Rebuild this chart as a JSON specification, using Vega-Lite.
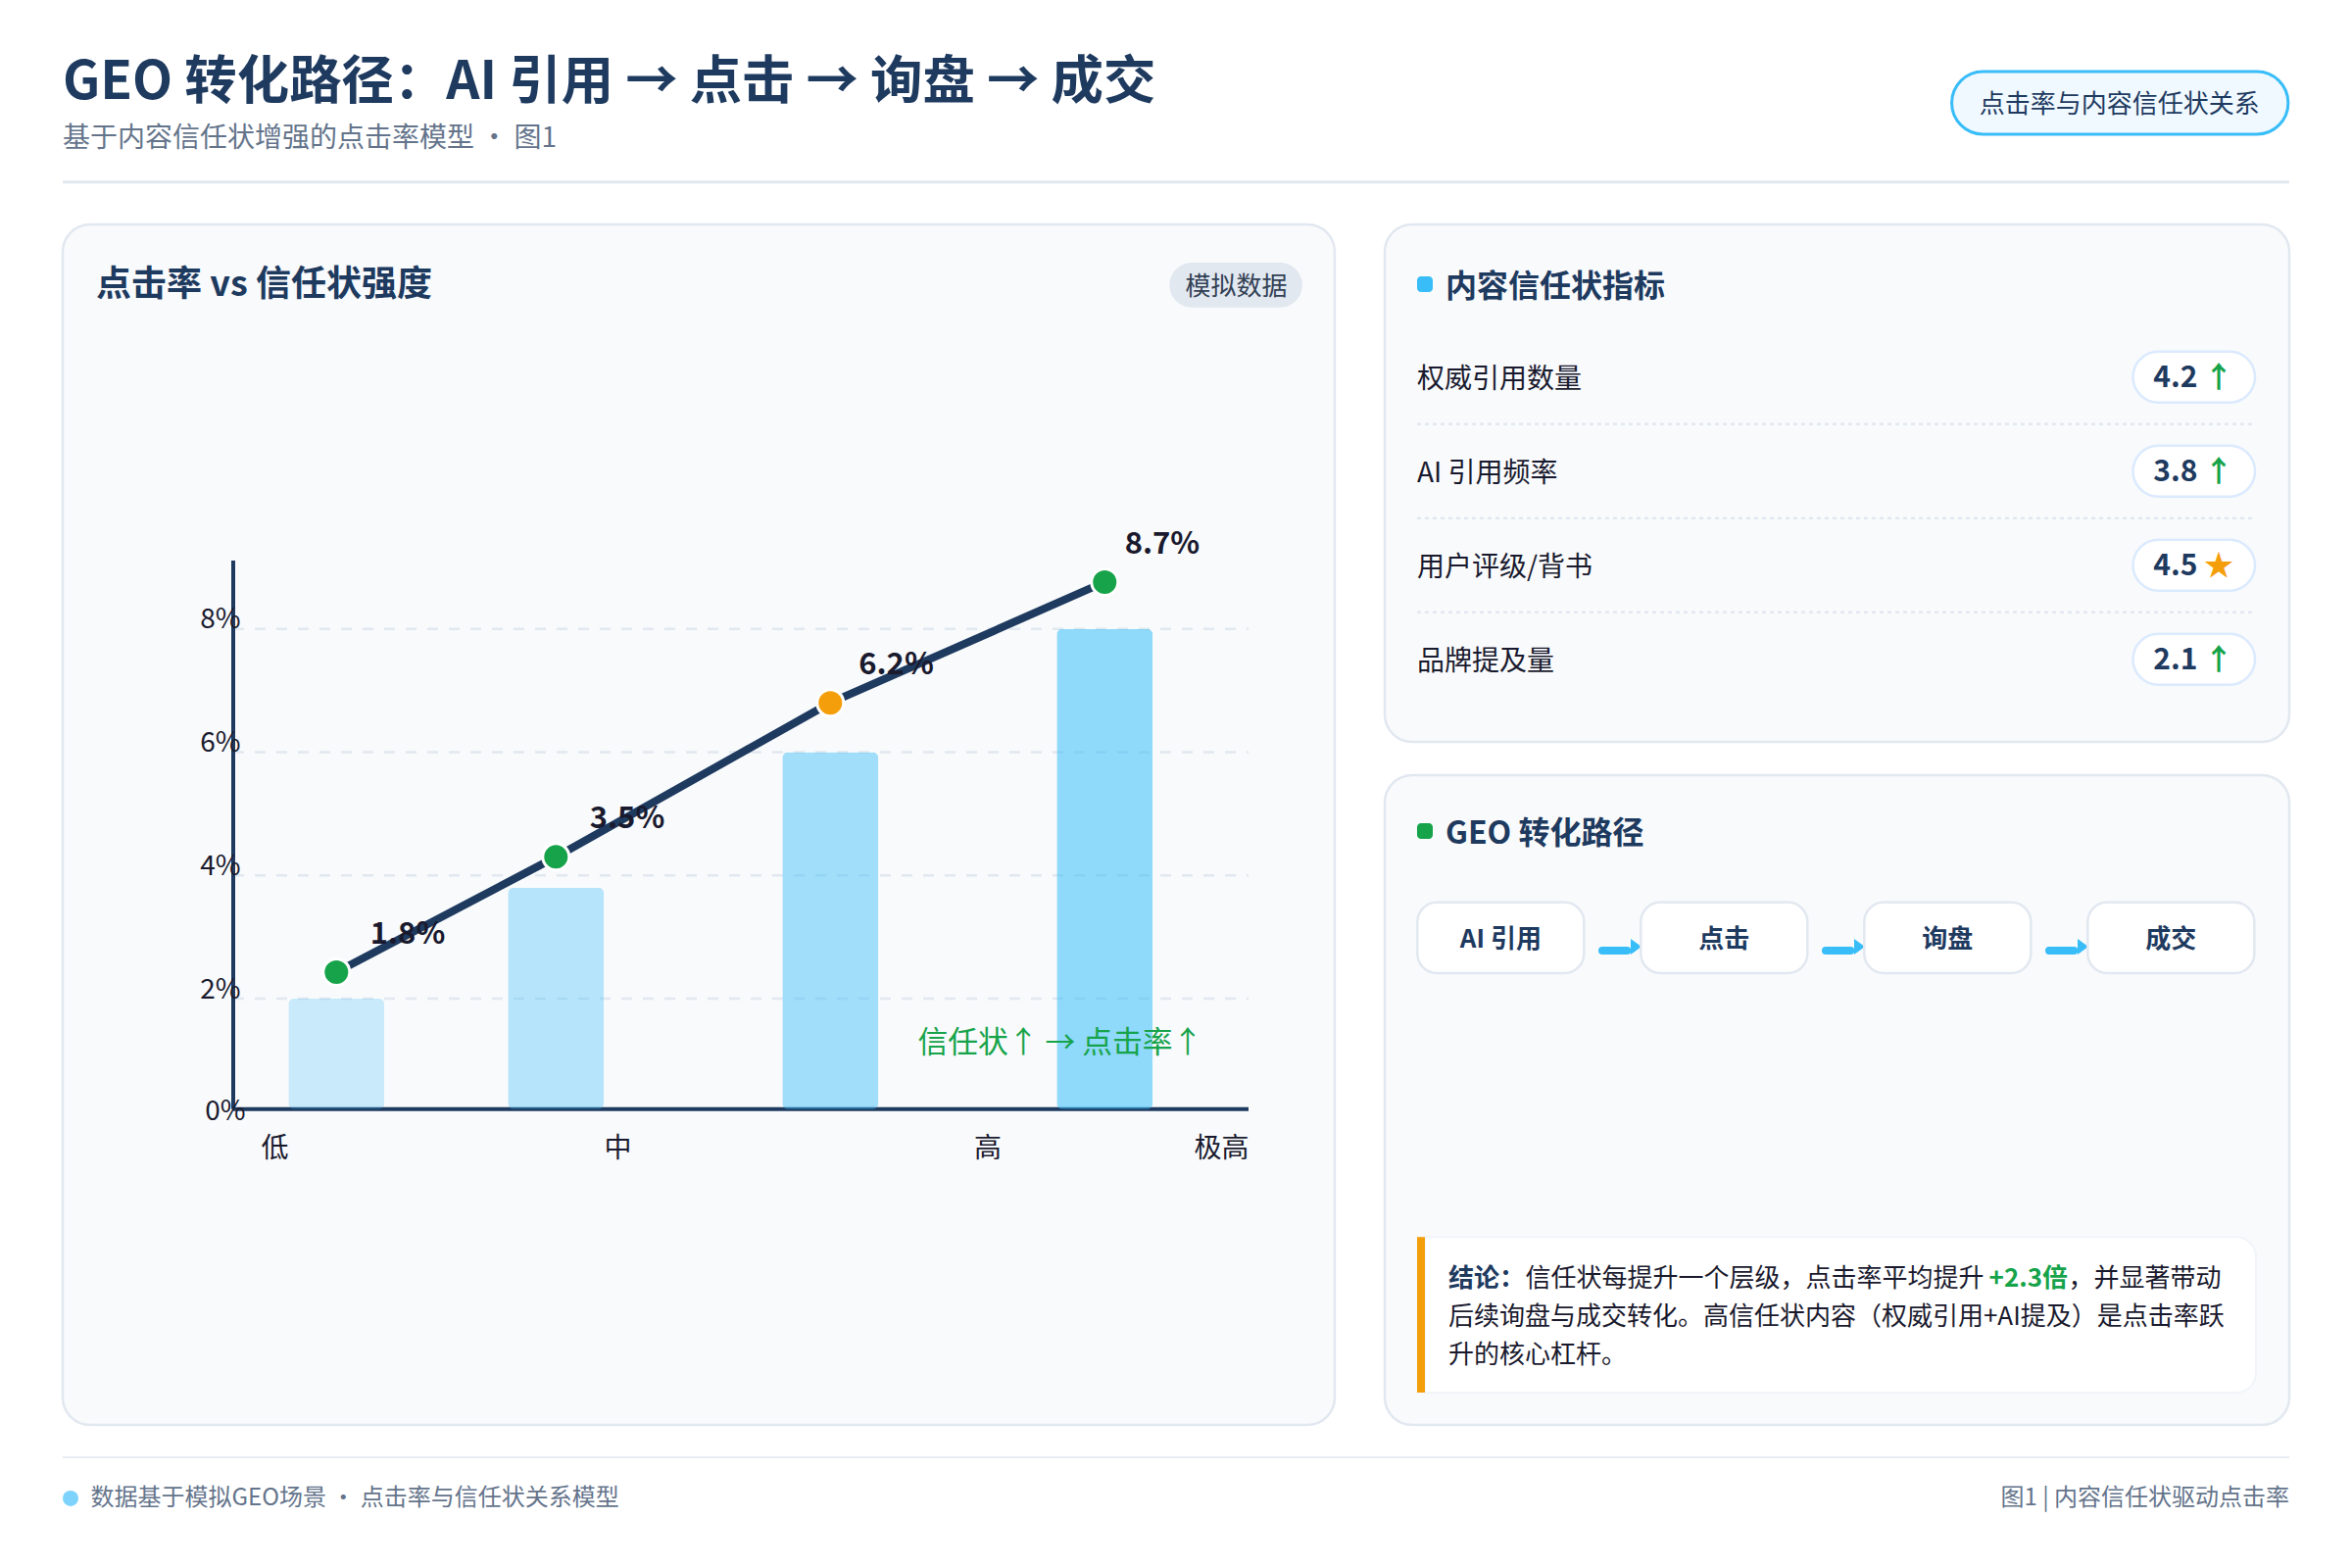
{
  "$schema": "https://vega.github.io/schema/vega-lite/v6.json",
  "background": "#ffffff",
  "padding": {"left": 62, "right": 64, "top": 0, "bottom": 33},
  "config": {
    "font": "Noto Sans CJK SC",
    "view": {"stroke": null},
    "title": {"anchor": "start", "frame": "group", "font": "Noto Sans CJK SC", "color": "#1e3a5f", "fontWeight": 700}
  },
  "spacing": 29,
  "vconcat": [
    {
      "width": 2272,
      "height": 198,
      "title": {
        "text": "GEO 转化路径：AI 引用 → 点击 → 询盘 → 成交",
        "subtitle": "基于内容信任状增强的点击率模型 · 图1",
        "fontSize": 53.4,
        "offset": -156.6,
        "subtitleFont": "Noto Sans CJK SC",
        "subtitleFontSize": 28,
        "subtitleColor": "#64748b",
        "subtitleFontWeight": 400,
        "subtitlePadding": 15
      },
      "layer": [
        {
          "data": {"values": [{}]},
          "mark": {"type": "rule", "stroke": "#e2e8f0", "strokeWidth": 3},
          "encoding": {
            "y": {"datum": 93.78, "type": "quantitative", "axis": null, "scale": {"domain": [0, 100], "reverse": true, "nice": false}}
          }
        },
        {
          "data": {"values": [{}]},
          "mark": {"type": "rect", "fill": "#f0f9ff", "stroke": "#38bdf8", "strokeWidth": 3, "cornerRadius": 32},
          "encoding": {
            "x": {"datum": 84.84, "type": "quantitative", "axis": null, "scale": {"domain": [0, 100], "nice": false}},
            "x2": {"datum": 99.95},
            "y": {"datum": 36.9, "type": "quantitative", "axis": null},
            "y2": {"datum": 69.19}
          }
        },
        {
          "data": {"values": [{"tag": "点击率与内容信任状关系"}]},
          "mark": {"type": "text", "fontSize": 26, "color": "#1e3a5f"},
          "encoding": {
            "text": {"field": "tag"},
            "x": {"datum": 92.38, "type": "quantitative", "axis": null},
            "y": {"datum": 53.95, "type": "quantitative", "axis": null}
          }
        }
      ]
    },
    {
      "bounds": "flush",
      "spacing": 51,
      "hconcat": [
        {
          "width": 1298,
          "height": 1225,
          "view": {"fill": "#f8fafc", "stroke": "#e2e8f0", "strokeWidth": 2.5, "cornerRadius": 28},
          "title": {"text": "点击率 vs 信任状强度", "fontSize": 36, "offset": -80.5, "dx": 34},
          "resolve": {"axis": {"x": "independent", "y": "independent"}},
          "layer": [
            {
              "data": {"values": [{"tick": 2}, {"tick": 4}, {"tick": 6}, {"tick": 8}]},
              "mark": {"type": "rule", "stroke": "#e2e8f0", "strokeWidth": 2.5, "strokeDash": [11, 11]},
              "encoding": {
                "x": {
                  "datum": 0,
                  "type": "quantitative",
                  "scale": {"domain": [-1.5536, 10.0357], "nice": false, "zero": false, "padding": 0},
                  "axis": {
                    "orient": "bottom",
                    "title": null,
                    "values": [0.375, 3.5, 6.87, 9],
                    "labelExpr": "datum.value < 1 ? '低' : datum.value < 5 ? '中' : datum.value < 8 ? '高' : '极高'",
                    "offset": -322.3,
                    "domain": false,
                    "ticks": false,
                    "grid": false,
                    "labelFontSize": 28,
                    "labelColor": "#1a1a2e",
                    "labelPadding": 26.5,
                    "labelFlush": false,
                    "labelOverlap": false,
                    "labelBound": false
                  }
                },
                "x2": {"datum": 9.25},
                "y": {
                  "field": "tick",
                  "type": "quantitative",
                  "scale": {"domain": [-5.72, 0, 2, 8, 14.57], "range": [1225, 902.7, 790, 412.7, 0], "nice": false, "zero": false},
                  "axis": {
                    "orient": "left",
                    "title": null,
                    "values": [0, 2, 4, 6, 8],
                    "labelExpr": "datum.value + '%'",
                    "offset": -174,
                    "domain": false,
                    "ticks": false,
                    "grid": false,
                    "labelFontSize": 28,
                    "labelColor": "#1a1a2e",
                    "labelAlign": "right",
                    "labelBaseline": "middle",
                    "labelPadding": {"condition": {"test": "datum.value === 0", "value": -12}, "value": -7},
                    "labelOffset": {"condition": {"test": "datum.value === 0", "value": 3}, "value": -9},
                    "labelFlush": false,
                    "labelOverlap": false,
                    "labelBound": false,
                    "zindex": 1
                  }
                }
              }
            },
            {
              "data": {"values": [{}]},
              "mark": {"type": "rule", "stroke": "#1e3a5f", "strokeWidth": 4},
              "encoding": {
                "x": {"datum": 0, "type": "quantitative", "axis": null},
                "x2": {"datum": 9.25},
                "y": {"datum": 0, "type": "quantitative", "axis": null}
              }
            },
            {
              "data": {"values": [{}]},
              "mark": {"type": "rule", "stroke": "#1e3a5f", "strokeWidth": 4},
              "encoding": {
                "x": {"datum": 0, "type": "quantitative", "axis": null},
                "y": {"datum": 0, "type": "quantitative", "axis": null},
                "y2": {"datum": 9.11}
              }
            },
            {
              "data": {"name": "levels"},
              "mark": {"type": "bar", "orient": "vertical", "width": 98, "cornerRadius": 6, "fill": "#38bdf8"},
              "encoding": {
                "x": {"field": "trust", "type": "quantitative", "axis": null},
                "y": {"field": "bar_ctr", "type": "quantitative", "axis": null},
                "opacity": {"field": "bar_ctr", "type": "quantitative", "scale": {"domain": [2, 8], "range": [0.25, 0.55]}, "legend": null}
              }
            },
            {
              "data": {"name": "levels"},
              "mark": {"type": "line", "stroke": "#1e3a5f", "strokeWidth": 8},
              "encoding": {
                "x": {"field": "trust", "type": "quantitative", "axis": null},
                "y": {"field": "line_ctr", "type": "quantitative", "axis": null}
              }
            },
            {
              "data": {"name": "levels"},
              "mark": {"type": "point", "shape": "circle", "filled": true, "size": 729, "stroke": "#ffffff", "strokeWidth": 3, "opacity": 1},
              "encoding": {
                "x": {"field": "trust", "type": "quantitative", "axis": null},
                "y": {"field": "line_ctr", "type": "quantitative", "axis": null},
                "fill": {"field": "status", "type": "nominal", "scale": {"domain": ["达标", "关注"], "range": ["#16a34a", "#f59e0b"]}, "legend": null}
              }
            },
            {
              "data": {"name": "levels"},
              "mark": {"type": "text", "fontSize": 31, "fontWeight": 700, "color": "#1a1a2e", "dy": -38},
              "encoding": {
                "text": {"field": "rate"},
                "x": {"field": "label_trust", "type": "quantitative", "axis": null},
                "y": {"field": "line_ctr", "type": "quantitative", "axis": null}
              }
            },
            {
              "data": {"values": [{"note": "信任状↑ → 点击率↑"}]},
              "mark": {"type": "text", "fontSize": 30.8, "color": "#16a34a"},
              "encoding": {
                "text": {"field": "note"},
                "x": {"datum": 7.535, "type": "quantitative", "axis": null},
                "y": {"datum": 1.18, "type": "quantitative", "axis": null}
              }
            },
            {
              "data": {"values": [{}]},
              "mark": {"type": "rect", "fill": "#e2e8f0", "cornerRadius": 23},
              "encoding": {
                "x": {"datum": 8.53, "type": "quantitative", "axis": null},
                "x2": {"datum": 9.74},
                "y": {"datum": 13.95, "type": "quantitative", "axis": null},
                "y2": {"datum": 13.22}
              }
            },
            {
              "data": {"values": [{"tag": "模拟数据"}]},
              "mark": {"type": "text", "fontSize": 26, "color": "#334155"},
              "encoding": {
                "text": {"field": "tag"},
                "x": {"datum": 9.138, "type": "quantitative", "axis": null},
                "y": {"datum": 13.55, "type": "quantitative", "axis": null}
              }
            }
          ]
        },
        {
          "bounds": "flush",
          "spacing": 34,
          "vconcat": [
            {
              "width": 923,
              "height": 528,
              "view": {"fill": "#f8fafc", "stroke": "#e2e8f0", "strokeWidth": 2.5, "cornerRadius": 28},
              "title": {"text": "内容信任状指标", "fontSize": 32, "offset": -80.5, "dx": 62},
              "layer": [
                {
                  "data": {"values": [{}]},
                  "mark": {"type": "rect", "fill": "#38bdf8", "cornerRadius": 4},
                  "encoding": {
                    "x": {"datum": 3.575, "type": "quantitative", "axis": null, "scale": {"domain": [0, 100], "nice": false}},
                    "x2": {"datum": 5.31},
                    "y": {"datum": -0.07, "type": "quantitative", "axis": null, "scale": {"domain": [-0.622, 4.878], "reverse": true, "nice": false, "zero": false}},
                    "y2": {"datum": 0.097}
                  }
                },
                {
                  "data": {"name": "indicators"},
                  "transform": [{"filter": "datum.rank < 4"}],
                  "mark": {"type": "rule", "stroke": "#e2e8f0", "strokeWidth": 2.5, "strokeDash": [4, 4], "yOffset": 48},
                  "encoding": {
                    "x": {"datum": 3.575, "type": "quantitative", "axis": null},
                    "x2": {"datum": 96.21},
                    "y": {"field": "rank", "type": "quantitative", "axis": null}
                  }
                },
                {
                  "data": {"name": "indicators"},
                  "mark": {"type": "text", "fontSize": 28, "align": "left", "color": "#1a1a2e", "dy": 3},
                  "encoding": {
                    "text": {"field": "indicator"},
                    "x": {"datum": 3.575, "type": "quantitative", "axis": null},
                    "y": {"field": "rank", "type": "quantitative", "axis": null}
                  }
                },
                {
                  "data": {"name": "indicators"},
                  "mark": {"type": "rect", "height": 52, "cornerRadius": 26, "fill": "#ffffff", "stroke": "#dbeafe", "strokeWidth": 2.5},
                  "encoding": {
                    "x": {"datum": 82.72, "type": "quantitative", "axis": null},
                    "x2": {"datum": 96.21},
                    "y": {"field": "rank", "type": "quantitative", "axis": null}
                  }
                },
                {
                  "data": {"name": "indicators"},
                  "mark": {"type": "text", "fontSize": 30, "fontWeight": 700, "align": "left", "color": "#1e3a5f", "dy": 1.5},
                  "encoding": {
                    "text": {"field": "score", "format": ".1f"},
                    "x": {"datum": 84.98, "type": "quantitative", "axis": null},
                    "y": {"field": "rank", "type": "quantitative", "axis": null}
                  }
                },
                {
                  "data": {"name": "indicators"},
                  "mark": {"type": "text", "fontSize": 30, "fontWeight": 700, "dy": 1.5},
                  "encoding": {
                    "text": {"field": "trend"},
                    "x": {"datum": 92.2, "type": "quantitative", "axis": null},
                    "y": {"field": "rank", "type": "quantitative", "axis": null},
                    "color": {"field": "trend", "type": "nominal", "scale": {"domain": ["↑", "★"], "range": ["#16a34a", "#f59e0b"]}, "legend": null}
                  }
                }
              ]
            },
            {
              "width": 923,
              "height": 663,
              "view": {"fill": "#f8fafc", "stroke": "#e2e8f0", "strokeWidth": 2.5, "cornerRadius": 28},
              "title": {"text": "GEO 转化路径", "fontSize": 32, "offset": -77.4, "dx": 62},
              "layer": [
                {
                  "data": {"values": [{}]},
                  "mark": {"type": "rect", "fill": "#16a34a", "cornerRadius": 4},
                  "encoding": {
                    "x": {"datum": 0.6258, "type": "quantitative", "axis": null, "scale": {"domain": [0.4811, 4.5293], "nice": false, "zero": false}},
                    "x2": {"datum": 0.696},
                    "y": {"datum": 7.39, "type": "quantitative", "axis": null, "scale": {"domain": [0, 100], "reverse": true, "nice": false}},
                    "y2": {"datum": 9.8}
                  }
                },
                {
                  "data": {"name": "stages"},
                  "transform": [{"filter": "datum.stage < 4"}],
                  "mark": {"type": "rule", "stroke": "#38bdf8", "strokeWidth": 8, "strokeCap": "round", "xOffset": 103.7, "x2Offset": 129},
                  "encoding": {
                    "x": {"field": "stage", "type": "quantitative", "axis": null},
                    "x2": {"field": "stage"},
                    "y": {"datum": 27, "type": "quantitative", "axis": null}
                  }
                },
                {
                  "data": {"name": "stages"},
                  "transform": [{"filter": "datum.stage < 4"}],
                  "mark": {"type": "point", "shape": "M-0.6875,-1L0.6875,0L-0.6875,1Z", "filled": true, "fill": "#38bdf8", "size": 256, "opacity": 1, "xOffset": 138.2},
                  "encoding": {
                    "x": {"field": "stage", "type": "quantitative", "axis": null},
                    "y": {"datum": 26.4, "type": "quantitative", "axis": null}
                  }
                },
                {
                  "data": {"name": "stages"},
                  "mark": {"type": "rect", "width": 170, "cornerRadius": 20, "fill": "#ffffff", "stroke": "#e2e8f0", "strokeWidth": 2.5},
                  "encoding": {
                    "x": {"field": "stage", "type": "quantitative", "axis": null},
                    "y": {"datum": 19.56, "type": "quantitative", "axis": null},
                    "y2": {"datum": 30.47}
                  }
                },
                {
                  "data": {"name": "stages"},
                  "mark": {"type": "text", "fontSize": 26, "fontWeight": 700, "color": "#1e3a5f"},
                  "encoding": {
                    "text": {"field": "step"},
                    "x": {"field": "stage", "type": "quantitative", "axis": null},
                    "y": {"datum": 25.34, "type": "quantitative", "axis": null}
                  }
                },
                {
                  "data": {"values": [{}]},
                  "mark": {"type": "rect", "fill": "#ffffff", "stroke": "#f1f5f9", "strokeWidth": 2, "cornerRadiusTopRight": 20, "cornerRadiusBottomRight": 20},
                  "encoding": {
                    "x": {"datum": 0.6609, "type": "quantitative", "axis": null},
                    "x2": {"datum": 4.38},
                    "y": {"datum": 71.09, "type": "quantitative", "axis": null},
                    "y2": {"datum": 95.02}
                  }
                },
                {
                  "data": {"values": [{}]},
                  "mark": {"type": "rect", "fill": "#f59e0b"},
                  "encoding": {
                    "x": {"datum": 0.6258, "type": "quantitative", "axis": null},
                    "x2": {"datum": 0.6609},
                    "y": {"datum": 71.09, "type": "quantitative", "axis": null},
                    "y2": {"datum": 95.02}
                  }
                },
                {
                  "data": {"values": [{"run": "结论："}]},
                  "mark": {"type": "text", "fontSize": 26, "fontWeight": 700, "align": "left", "color": "#1e3a5f"},
                  "encoding": {
                    "text": {"field": "run"},
                    "x": {"datum": 0.7657, "type": "quantitative", "axis": null},
                    "y": {"datum": 77.55, "type": "quantitative", "axis": null}
                  }
                },
                {
                  "data": {"values": [{"run": "信任状每提升一个层级，点击率平均提升"}]},
                  "mark": {"type": "text", "fontSize": 26, "align": "left", "color": "#1a1a2e"},
                  "encoding": {
                    "text": {"field": "run"},
                    "x": {"datum": 1.1109, "type": "quantitative", "axis": null},
                    "y": {"datum": 77.55, "type": "quantitative", "axis": null}
                  }
                },
                {
                  "data": {"values": [{"run": "+2.3倍"}]},
                  "mark": {"type": "text", "fontSize": 26, "fontWeight": 700, "align": "left", "color": "#16a34a"},
                  "encoding": {
                    "text": {"field": "run"},
                    "x": {"datum": 3.1855, "type": "quantitative", "axis": null},
                    "y": {"datum": 77.55, "type": "quantitative", "axis": null}
                  }
                },
                {
                  "data": {"values": [{"run": "，并显著带动"}]},
                  "mark": {"type": "text", "fontSize": 26, "align": "left", "color": "#1a1a2e"},
                  "encoding": {
                    "text": {"field": "run"},
                    "x": {"datum": 3.5404, "type": "quantitative", "axis": null},
                    "y": {"datum": 77.55, "type": "quantitative", "axis": null}
                  }
                },
                {
                  "data": {"values": [{"run": "后续询盘与成交转化。高信任状内容（权威引用+AI提及）是点击率跃"}]},
                  "mark": {"type": "text", "fontSize": 26, "align": "left", "color": "#1a1a2e"},
                  "encoding": {
                    "text": {"field": "run"},
                    "x": {"datum": 0.7657, "type": "quantitative", "axis": null},
                    "y": {"datum": 83.43, "type": "quantitative", "axis": null}
                  }
                },
                {
                  "data": {"values": [{"run": "升的核心杠杆。"}]},
                  "mark": {"type": "text", "fontSize": 26, "align": "left", "color": "#1a1a2e"},
                  "encoding": {
                    "text": {"field": "run"},
                    "x": {"datum": 0.7657, "type": "quantitative", "axis": null},
                    "y": {"datum": 89.31, "type": "quantitative", "axis": null}
                  }
                }
              ]
            }
          ]
        }
      ]
    },
    {
      "width": 2272,
      "height": 80,
      "layer": [
        {
          "data": {"values": [{}]},
          "mark": {"type": "rule", "stroke": "#e9eef4", "strokeWidth": 2},
          "encoding": {
            "y": {"datum": 2.5, "type": "quantitative", "axis": null, "scale": {"domain": [0, 100], "reverse": true, "nice": false}}
          }
        },
        {
          "data": {"values": [{}]},
          "mark": {"type": "point", "shape": "circle", "filled": true, "fill": "#7dd3fc", "size": 256, "opacity": 1},
          "encoding": {
            "x": {"datum": 0.352, "type": "quantitative", "axis": null, "scale": {"domain": [0, 100], "nice": false}},
            "y": {"datum": 54.9, "type": "quantitative", "axis": null}
          }
        },
        {
          "data": {"values": [{"note": "数据基于模拟GEO场景 · 点击率与信任状关系模型"}]},
          "mark": {"type": "text", "fontSize": 24, "align": "left", "color": "#64748b"},
          "encoding": {
            "text": {"field": "note"},
            "x": {"datum": 1.254, "type": "quantitative", "axis": null},
            "y": {"datum": 54.9, "type": "quantitative", "axis": null}
          }
        },
        {
          "data": {"values": [{"note": "图1 | 内容信任状驱动点击率"}]},
          "mark": {"type": "text", "fontSize": 24, "align": "right", "color": "#64748b"},
          "encoding": {
            "text": {"field": "note"},
            "x": {"datum": 100, "type": "quantitative", "axis": null},
            "y": {"datum": 54.9, "type": "quantitative", "axis": null}
          }
        }
      ]
    }
  ],
  "datasets": {
    "levels": [
      {"level": "低", "trust": 0.94, "bar_ctr": 2, "line_ctr": 2.43, "rate": "1.8%", "label_trust": 1.589, "status": "达标"},
      {"level": "中", "trust": 2.94, "bar_ctr": 3.8, "line_ctr": 4.3, "rate": "3.5%", "label_trust": 3.589, "status": "达标"},
      {"level": "高", "trust": 5.44, "bar_ctr": 6, "line_ctr": 6.8, "rate": "6.2%", "label_trust": 6.04, "status": "关注"},
      {"level": "极高", "trust": 7.94, "bar_ctr": 8, "line_ctr": 8.76, "rate": "8.7%", "label_trust": 8.464, "status": "达标"}
    ],
    "indicators": [
      {"indicator": "权威引用数量", "rank": 1, "score": 4.2, "trend": "↑"},
      {"indicator": "AI 引用频率", "rank": 2, "score": 3.8, "trend": "↑"},
      {"indicator": "用户评级/背书", "rank": 3, "score": 4.5, "trend": "★"},
      {"indicator": "品牌提及量", "rank": 4, "score": 2.1, "trend": "↑"}
    ],
    "stages": [
      {"step": "AI 引用", "stage": 1},
      {"step": "点击", "stage": 2},
      {"step": "询盘", "stage": 3},
      {"step": "成交", "stage": 4}
    ]
  }
}
